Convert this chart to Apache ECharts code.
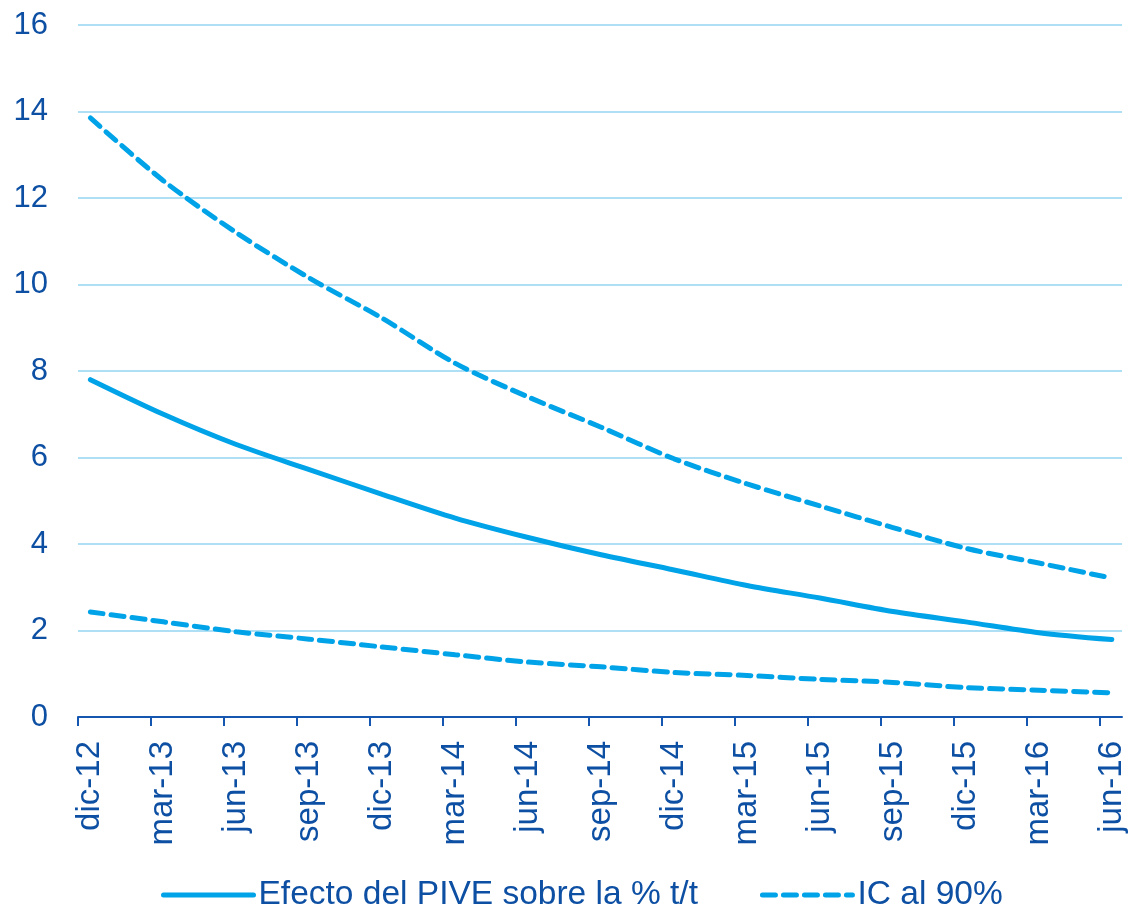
<!DOCTYPE html>
<html>
<head>
<meta charset="utf-8">
<script src="https://cdn.jsdelivr.net/npm/echarts@6/dist/echarts.min.js"></script>
<style>
html, body { margin: 0; padding: 0; background: #fff; }
#chart { width: 1129px; height: 911px; }
</style>
</head>
<body>
<div id="chart"></div>
<script>
var categories = ['dic-12','mar-13','jun-13','sep-13','dic-13','mar-14','jun-14','sep-14','dic-14','mar-15','jun-15','sep-15','dic-15','mar-16','jun-16'];
var efecto = [7.8, 7.0, 6.3, 5.72, 5.15, 4.6, 4.15, 3.75, 3.4, 3.04, 2.75, 2.44, 2.2, 1.95, 1.79];
var icUpper = [13.85, 12.4, 11.2, 10.15, 9.22, 8.18, 7.4, 6.7, 5.97, 5.39, 4.88, 4.38, 3.9, 3.56, 3.21];
var icLower = [2.43, 2.2, 1.97, 1.8, 1.62, 1.44, 1.27, 1.16, 1.03, 0.96, 0.87, 0.8, 0.68, 0.62, 0.56];
var yTicks = [0, 2, 4, 6, 8, 10, 12, 14, 16];

var nameMain = 'Efecto del PIVE sobre la % t/t';
var nameIC = 'IC al 90%';
var lineColor = '#00A3E8';
var textColor = '#0D4FA3';
var font = '"Liberation Sans", Arial, sans-serif';

function pairs(arr) {
	return arr.map(function (v, i) { return [i, v]; });
}

var chart = echarts.init(document.getElementById('chart'));
var option = {
	animation: false,
	grid: { left: 78, right: 7, top: 25, bottom: 194, containLabel: false },
	legend: {
		left: 156,
		bottom: -6,
		itemWidth: 90,
		itemHeight: 14,
		itemGap: 62,
		itemStyle: { color: 'transparent', borderWidth: 0 },
		lineStyle: { width: 5, cap: 'round' },
		textStyle: { color: textColor, fontSize: 33.5, fontFamily: font },
		data: [nameMain, nameIC]
	},
	xAxis: {
		type: 'value',
		min: -0.17,
		max: 14.14,
		splitLine: { show: false },
		axisLine: { lineStyle: { color: '#1557B0', width: 2 } },
		axisTick: {
			show: true, length: 9, inside: false,
			lineStyle: { color: '#1557B0', width: 2 },
			customValues: categories.map(function (c, i) { return i - 0.17; })
		},
		axisLabel: {
			rotate: 90,
			margin: 24,
			color: textColor,
			fontSize: 33,
			fontFamily: font,
			customValues: categories.map(function (c, i) { return i; }),
			formatter: function (v) { return categories[Math.round(v)]; }
		}
	},
	yAxis: {
		type: 'value',
		min: 0,
		max: 16,
		interval: 2,
		axisLine: { show: false },
		axisTick: { show: false },
		splitLine: { lineStyle: { color: '#AEDFF5', width: 2 } },
		axisLabel: {
			margin: 30,
			color: textColor,
			fontSize: 31,
			fontFamily: font,
			customValues: yTicks
		}
	},
	series: [
		{
			name: nameMain, type: 'line', data: pairs(efecto),
			showSymbol: false, symbol: 'none', smooth: 0.3,
			lineStyle: { color: lineColor, width: 5, cap: 'round' },
			itemStyle: { color: lineColor }
		},
		{
			name: nameIC, type: 'line', data: pairs(icUpper),
			showSymbol: false, symbol: 'none', smooth: 0.3,
			lineStyle: { color: lineColor, width: 5, type: [13, 8], cap: 'round' },
			itemStyle: { color: lineColor }
		},
		{
			name: nameIC, type: 'line', data: pairs(icLower),
			showSymbol: false, symbol: 'none', smooth: 0.3,
			lineStyle: { color: lineColor, width: 5, type: [13, 8], cap: 'round' },
			itemStyle: { color: lineColor }
		}
	]
};
chart.setOption(option);
</script>
</body>
</html>
